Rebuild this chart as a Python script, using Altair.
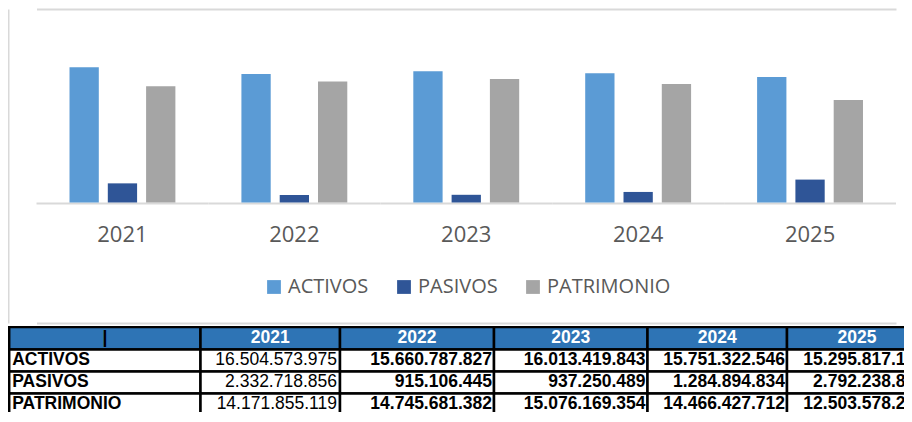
import altair as alt
import pandas as pd

# ---------------- data ----------------
YEARS = ["2021", "2022", "2023", "2024", "2025"]
SERIES = ["ACTIVOS", "PASIVOS", "PATRIMONIO"]
ACTIVOS = [16504573975, 15660787827, 16013419843, 15751322546, 15295817172]
PASIVOS = [2332718856, 915106445, 937250489, 1284894834, 2792238876]
PATRIMONIO = [14171855119, 14745681382, 15076169354, 14466427712, 12503578296]

# ---------------- style / layout ----------------
COLORS = ["#5B9BD5", "#2F5597", "#A5A5A5"]
HEADER_BLUE = "#2E74B5"
FRAME = "#D9D9D9"
W_TOP = 895
W_TABLE = 896
CHART_H = 314
TABLE_H = 86
Y_DOMAIN = [-14.70e9, 23.6e9]
COL_EDGES = [1.2, 192.5, 332, 486, 639.5, 779, 919]
ROW_EDGES = [1, 23.5, 45.5, 67.5, 89.5]
TXT_FONT = "Open Sans"
TBL_FONT = "Arial, Liberation Sans"

# ---------------- bar chart ----------------
values = {"ACTIVOS": ACTIVOS, "PASIVOS": PASIVOS, "PATRIMONIO": PATRIMONIO}
bars_df = pd.DataFrame(
    [{"year": y, "serie": s, "value": values[s][i]} for s in SERIES for i, y in enumerate(YEARS)]
)
years_df = pd.DataFrame({"year": YEARS})

x_scale = alt.Scale(domain=YEARS, range=[28.5, 888], paddingInner=0, paddingOuter=0)
y_scale = alt.Scale(domain=Y_DOMAIN, nice=False, zero=False)
x_axis = alt.Axis(title=None, domain=False, ticks=False, labelAngle=0,
                  labelFont=TXT_FONT, labelFontSize=22, labelColor="#595959",
                  labelBaseline="middle", labelPadding=0, offset=-89)
y_axis = alt.Axis(title=None, labels=False, ticks=False, domain=True,
                  domainColor=FRAME, domainWidth=2, grid=True, gridColor=FRAME,
                  gridWidth=2, values=[Y_DOMAIN[1], Y_DOMAIN[0]])

baseline = alt.Chart(years_df).mark_rect(color=FRAME).encode(
    x=alt.X("year:N", scale=x_scale, sort=YEARS, axis=x_axis),
    y=alt.Y("b0:Q", scale=y_scale, axis=y_axis),
    y2=alt.Y2("b1:Q"),
).transform_calculate(b0="0", b1="-240000000")

bars = alt.Chart(bars_df).mark_bar().encode(
    x=alt.X("year:N", scale=x_scale, sort=YEARS, axis=x_axis),
    xOffset=alt.XOffset("serie:N", sort=SERIES,
                        scale=alt.Scale(domain=SERIES, paddingInner=0.235, paddingOuter=0.862)),
    y=alt.Y("value:Q", scale=y_scale, axis=y_axis),
    color=alt.Color("serie:N", sort=SERIES,
                    scale=alt.Scale(domain=SERIES, range=COLORS),
                    legend=alt.Legend(orient="none", legendX=256, legendY=268,
                                      direction="horizontal", title=None,
                                      symbolType="square", symbolSize=190,
                                      symbolStrokeWidth=0, labelFont=TXT_FONT,
                                      labelFontSize=20, labelColor="#595959",
                                      labelOffset=4, columnPadding=25, padding=0)),
)

top = alt.layer(baseline, bars).properties(width=W_TOP, height=CHART_H)

# ---------------- table ----------------
def fmt(v):
    return f"{v:,}".replace(",", ".")

rows_text = [["|"] + YEARS] + [[s] + [fmt(v) for v in values[s]] for s in SERIES]
cells = []
for r, row in enumerate(rows_text):
    for c, t in enumerate(row):
        cells.append({
            "r": r, "c": c, "text": t,
            "x": COL_EDGES[c], "x2": COL_EDGES[c + 1],
            "xc": (COL_EDGES[c] + COL_EDGES[c + 1]) / 2,
            "y": ROW_EDGES[r], "y2": ROW_EDGES[r + 1],
            "yc": (ROW_EDGES[r] + ROW_EDGES[r + 1]) / 2,
        })
cells_df = pd.DataFrame(cells)

tx = alt.Scale(domain=[0, W_TABLE], nice=False, zero=False)
ty = alt.Scale(domain=[0, TABLE_H], nice=False, zero=False, reverse=True)

base = alt.Chart(cells_df)

header_rects = base.mark_rect(fill=HEADER_BLUE, stroke="black", strokeWidth=2.5, clip=True).encode(
    x=alt.X("x:Q", scale=tx, axis=None), x2="x2:Q",
    y=alt.Y("y:Q", scale=ty, axis=None), y2="y2:Q",
).transform_filter("datum.r == 0")

body_rects = base.mark_rect(fill="white", stroke="black", strokeWidth=2.5, clip=True).encode(
    x=alt.X("x:Q", scale=tx, axis=None), x2="x2:Q",
    y=alt.Y("y:Q", scale=ty, axis=None), y2="y2:Q",
).transform_filter("datum.r > 0")

header_text = base.mark_text(font=TBL_FONT, fontSize=17.5, fontWeight="bold", color="white",
                             align="center", baseline="middle", clip=True).encode(
    x=alt.X("xc:Q", scale=tx, axis=None),
    y=alt.Y("yc:Q", scale=ty, axis=None),
    text="text:N",
).transform_filter("datum.r == 0 && datum.c > 0")

header_bar = base.mark_text(font=TBL_FONT, fontSize=17.5, fontWeight="bold", color="black",
                            align="center", baseline="middle", clip=True).encode(
    x=alt.X("xc:Q", scale=tx, axis=None),
    y=alt.Y("yc:Q", scale=ty, axis=None),
    text="text:N",
).transform_filter("datum.r == 0 && datum.c == 0")

row_labels = base.mark_text(font=TBL_FONT, fontSize=17.5, fontWeight="bold", color="black",
                            align="left", baseline="middle", dx=3, dy=-1, clip=True).encode(
    x=alt.X("x:Q", scale=tx, axis=None),
    y=alt.Y("yc:Q", scale=ty, axis=None),
    text="text:N",
).transform_filter("datum.r > 0 && datum.c == 0")

vals_plain = base.mark_text(font=TBL_FONT, fontSize=17.5, fontWeight="normal", color="black",
                            align="right", baseline="middle", dx=-3, dy=-1, clip=True).encode(
    x=alt.X("x2:Q", scale=tx, axis=None),
    y=alt.Y("yc:Q", scale=ty, axis=None),
    text="text:N",
).transform_filter("datum.r > 0 && datum.c == 1")

vals_bold = base.mark_text(font=TBL_FONT, fontSize=17.5, fontWeight="bold", color="black",
                           align="right", baseline="middle", dx=-2, dy=-1, clip=True).encode(
    x=alt.X("x2:Q", scale=tx, axis=None),
    y=alt.Y("yc:Q", scale=ty, axis=None),
    text="text:N",
).transform_filter("datum.r > 0 && datum.c > 1")

table = alt.layer(header_rects, body_rects, header_text, header_bar,
                  row_labels, vals_plain, vals_bold).properties(width=W_TABLE, height=TABLE_H)

chart = alt.vconcat(top, table, spacing=3).properties(
    padding={"left": 0, "top": 1, "right": 0, "bottom": 0},
    background="white",
).configure_view(strokeWidth=0)

chart.save("out.html", embed_options={"renderer": "svg", "actions": False})
